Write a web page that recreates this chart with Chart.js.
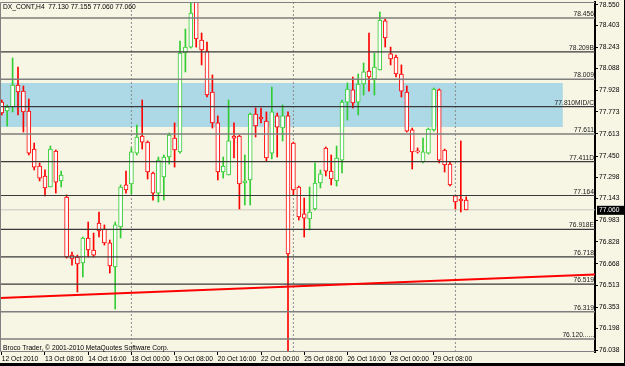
<!DOCTYPE html>
<html><head><meta charset="utf-8">
<script src="https://cdn.jsdelivr.net/npm/chart.js@4.4.1/dist/chart.umd.min.js"></script>
<style>
html,body{margin:0;padding:0;background:#000;}
#wrap{width:624px;height:363px;background:#F7F5E4;}
canvas{display:block;}
</style></head><body>
<div id="wrap"><canvas id="c" width="624" height="363"></canvas></div>
<script>
const headerText = "DX_CONT,H4  77.130 77.155 77.060 77.060";
const copyrightText = "Broco Trader, \u00A9 2001-2010 MetaQuotes Software Corp.";

const opens = [77.844,77.779,77.808,77.968,77.924,77.779,77.502,77.379,77.306,77.226,
77.488,77.270,77.153,76.731,76.717,76.673,76.855,76.768,76.964,76.920,
76.819,76.644,76.935,77.241,77.248,77.473,77.597,77.553,77.328,77.182,
77.299,77.444,77.582,77.481,78.201,78.244,78.608,78.295,78.215,77.917,
77.692,77.335,77.313,77.597,77.597,77.255,77.277,77.757,77.735,77.706,
77.473,77.743,77.655,77.743,77.546,77.226,77.030,76.993,77.066,77.255,
77.510,77.342,77.270,77.422,77.844,77.932,77.844,77.975,78.070,78.012,
78.077,78.434,78.194,78.172,78.048,77.917,77.641,77.488,77.408,77.473,
77.641,77.932,77.495,77.393,77.161,77.139,77.130];
const highs = [77.859,77.823,78.164,78.099,77.961,77.866,77.546,77.401,77.350,77.524,
77.495,77.342,77.168,76.753,76.731,76.862,76.971,76.891,77.044,76.950,
76.840,76.971,77.241,77.342,77.510,77.677,77.859,77.561,77.335,77.444,
77.459,77.619,77.692,78.288,78.375,78.565,78.630,78.346,78.281,78.041,
77.743,77.444,77.859,77.692,77.604,77.459,77.764,77.801,77.801,77.772,
77.953,77.764,77.823,77.772,77.553,77.233,77.146,77.226,77.401,77.350,
77.517,77.459,77.524,77.859,77.983,78.026,78.048,78.128,78.346,78.201,
78.499,78.448,78.244,78.186,78.114,77.961,77.655,77.510,77.582,77.655,
77.946,77.939,77.502,77.408,77.161,77.561,77.155];
const lows = [77.750,77.670,77.772,77.750,77.626,77.459,77.350,77.270,77.161,77.226,
77.182,77.226,76.709,76.658,76.462,76.571,76.717,76.717,76.862,76.804,
76.600,76.338,76.855,77.182,77.175,77.459,77.502,77.284,77.131,77.117,
77.131,77.393,77.371,77.473,78.063,78.237,78.244,78.114,77.881,77.655,
77.277,77.291,77.313,77.437,77.066,77.095,77.095,77.590,77.692,77.415,
77.430,77.444,77.561,76.004,77.168,76.986,76.862,76.913,77.059,77.219,
77.306,77.241,77.233,77.328,77.713,77.801,77.750,77.895,77.924,77.895,
78.077,78.244,78.114,78.026,77.881,77.626,77.357,77.473,77.401,77.466,
77.633,77.401,77.335,77.233,77.066,77.044,77.060];
const closes = [77.764,77.808,77.968,77.917,77.772,77.473,77.371,77.291,77.219,77.502,
77.262,77.313,76.717,76.702,76.666,76.855,76.768,76.731,76.906,76.819,
76.651,76.950,77.226,77.204,77.481,77.590,77.553,77.335,77.182,77.422,
77.444,77.604,77.495,78.201,78.244,78.492,78.303,78.223,77.895,77.692,
77.335,77.379,77.561,77.582,77.248,77.270,77.757,77.670,77.721,77.437,
77.772,77.662,77.743,76.739,77.204,77.008,77.000,77.044,77.255,77.321,
77.342,77.284,77.437,77.844,77.939,77.837,77.975,78.063,78.026,78.099,
78.441,78.310,78.157,78.048,77.924,77.633,77.481,77.481,77.481,77.648,
77.939,77.422,77.386,77.241,77.117,77.124,77.060];

const xTickBars = [0,8,16,24,32,40,48,56,64,72,80];
const xTickLabels = ["12 Oct 2010","13 Oct 08:00","14 Oct 16:00","18 Oct 00:00","19 Oct 08:00","20 Oct 16:00","22 Oct 00:00","25 Oct 08:00","26 Oct 16:00","28 Oct 00:00","29 Oct 08:00"];
const yTicks = [78.550,78.403,78.243,78.088,77.928,77.773,77.613,77.450,77.298,77.143,76.983,76.828,76.668,76.513,76.353,76.198,76.038];
const levelValues = [78.456,78.209,78.009,77.810,77.611,77.411,77.164,76.918,76.718,76.519,76.319,76.120];
const levelLabels = ["78.456","78.209B","78.009","77.810MID/C","77.611","77.411D","77.164","76.918E","76.718","76.519","76.319","76.120......"];
const levelDark = [false,true,false,true,false,true,true,true,true,true,false,false];
const separatorBars = [24,54,84];
const bandTop = 77.983, bandBottom = 77.662, bandEndBar = 103.9;
const trendStart = 76.419, trendEnd = 76.589;
const lastPrice = 77.060;

const X_MIN = -0.333, X_MAX = 109.85, Y_MIN = 76.0257, Y_MAX = 78.5718;
const GREEN = '#32CD32', RED = '#FF0000';
const FONT = '6.7px "Liberation Sans", Arial, sans-serif';

const colorOf = i => closes[i] >= opens[i] ? GREEN : RED;
const idx = opens.map((_, i) => i);
const wickData = idx.map(i => ({x: i, y: [lows[i], highs[i]]}));
const bodyData = idx.map(i => ({x: i, y: [Math.min(opens[i], closes[i]), Math.max(opens[i], closes[i])]}));

const datasets = [];
datasets.push({type:'line', data:[{x:X_MIN,y:bandTop},{x:bandEndBar,y:bandTop}], borderColor:'rgba(0,0,0,0)', borderWidth:0, pointRadius:0, fill:{value:bandBottom}, backgroundColor:'#ADD8E6', order:10});
separatorBars.forEach(b => datasets.push({type:'line', data:[{x:b,y:Y_MIN},{x:b,y:Y_MAX}], borderColor:'#8c8c8c', borderWidth:1, borderDash:[2,2], pointRadius:0, order:9}));
datasets.push({type:'line', data:[{x:X_MIN,y:lastPrice},{x:X_MAX,y:lastPrice}], borderColor:'#c8c8c0', borderWidth:1, pointRadius:0, order:8});
datasets.push({type:'bar', data:wickData, barThickness:1, backgroundColor: c => colorOf(c.dataIndex), borderWidth:0, grouped:false, order:5});
datasets.push({type:'bar', data:bodyData, barThickness:4, borderWidth:1, borderColor: c => colorOf(c.dataIndex), backgroundColor:'#ffffff', borderSkipped:false, minBarLength:1, grouped:false, order:4});
levelValues.forEach((v, k) => datasets.push({type:'line', data:[{x:X_MIN,y:v},{x:X_MAX,y:v}], borderColor: levelDark[k] ? '#3a3a3a' : '#7e7e7e', borderWidth: levelDark[k] ? 1.2 : 1.5, pointRadius:0, order:3}));
datasets.push({type:'line', data:[{x:X_MIN,y:trendStart},{x:X_MAX,y:trendEnd}], borderColor:'#ff0000', borderWidth:2, pointRadius:0, order:2});

const textPlugin = {
  id: 'texts',
  afterDraw(chart) {
    const ctx = chart.ctx, a = chart.chartArea, ys = chart.scales.y;
    ctx.save();
    ctx.strokeStyle = '#808080'; ctx.lineWidth = 1;
    ctx.beginPath();
    ctx.moveTo(a.right, a.top + 0.5); ctx.lineTo(a.left + 0.5, a.top + 0.5);
    ctx.lineTo(a.left + 0.5, a.bottom - 0.5); ctx.lineTo(a.right, a.bottom - 0.5);
    ctx.stroke();
    ctx.font = FONT; ctx.fillStyle = '#000';
    ctx.textAlign = 'left'; ctx.textBaseline = 'middle';
    ctx.fillText(headerText, 3, 7.5);
    ctx.fillText(copyrightText, 3, 348);
    ctx.textAlign = 'right'; ctx.textBaseline = 'bottom';
    levelValues.forEach((v, k) => {
      ctx.fillStyle = '#202020';
      ctx.fillText(levelLabels[k], a.right - 1, ys.getPixelForValue(v) - 0.5);
    });
    const py = ys.getPixelForValue(lastPrice);
    ctx.fillStyle = '#000';
    ctx.fillRect(a.right + 2, py - 4, 27, 9);
    ctx.fillStyle = '#fff'; ctx.textAlign = 'left'; ctx.textBaseline = 'middle';
    ctx.fillText(lastPrice.toFixed(3), a.right + 4, py + 0.5);
    ctx.restore();
  }
};

new Chart(document.getElementById('c'), {
  type: 'bar',
  data: { datasets },
  options: {
    responsive: false, animation: false, events: [],
    layout: { padding: { top: 2, left: 0, right: 0, bottom: 0 } },
    plugins: { legend: { display: false }, tooltip: { enabled: false } },
    scales: {
      x: {
        type: 'linear', min: X_MIN, max: X_MAX, offset: false,
        afterBuildTicks: s => { s.ticks = xTickBars.map(v => ({value: v})); },
        afterFit: s => { s.height = 11; s.paddingLeft = 0; s.paddingRight = 0; },
        ticks: { callback: (v, i) => xTickLabels[i], align: 'start', autoSkip: false, maxRotation: 0, minRotation: 0, font: { family: '"Liberation Sans", Arial', size: 6.7 }, color: '#000', padding: 0 },
        grid: { offset: false, drawOnChartArea: false, drawTicks: true, tickLength: 3, color: '#000' },
        border: { display: false }
      },
      y: {
        type: 'linear', position: 'right', min: Y_MIN, max: Y_MAX, beginAtZero: false,
        afterBuildTicks: s => { s.ticks = yTicks.map(v => ({value: v})); },
        afterFit: s => { s.width = 29; s.paddingTop = 0; s.paddingBottom = 0; },
        ticks: { callback: v => Number(v).toFixed(3), font: { family: '"Liberation Sans", Arial', size: 6.7 }, color: '#000', padding: 1, autoSkip: false },
        grid: { drawOnChartArea: false, drawTicks: true, tickLength: 3, color: '#000' },
        border: { display: true, color: '#000', width: 2 }
      }
    }
  },
  plugins: [textPlugin]
});
</script>
</body></html>
